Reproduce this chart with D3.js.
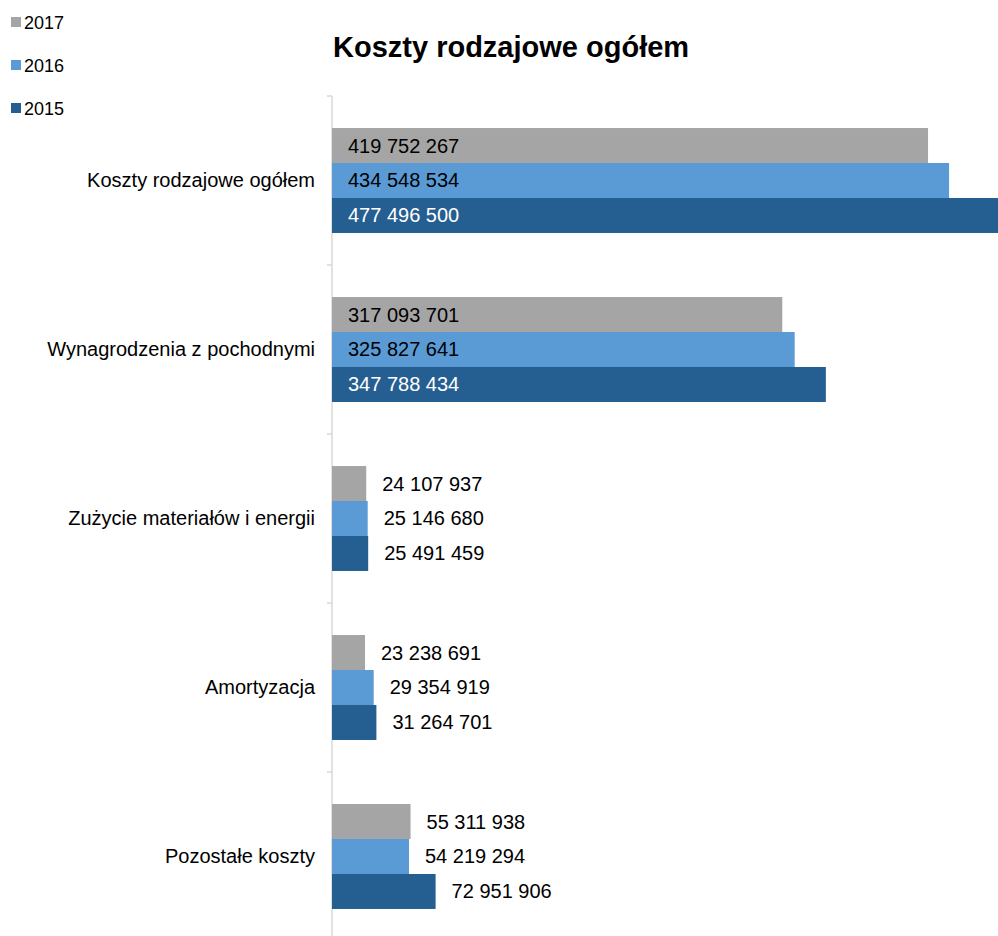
<!DOCTYPE html>
<html>
<head>
<meta charset="utf-8">
<script src="https://cdn.jsdelivr.net/npm/d3@7"></script>
<style>
  body { margin: 0; background: #fff; }
  svg { display: block; font-family: "Liberation Sans", Arial, sans-serif; }
</style>
</head>
<body>
<div id="chart"></div>
<script>
const categories = ['Koszty rodzajowe ogółem', 'Wynagrodzenia z pochodnymi', 'Zużycie materiałów i energii', 'Amortyzacja', 'Pozostałe koszty'];
const years = ['2017', '2016', '2015'];
const v2017 = [419752267, 317093701, 24107937, 23238691, 55311938];
const v2016 = [434548534, 325827641, 25146680, 29354919, 54219294];
const v2015 = [477496500, 347788434, 25491459, 31264701, 72951906];
const colors = ['#A5A5A5', '#5B9BD5', '#255E91'];

const series = [v2017, v2016, v2015];
const width = 998, height = 936;

const svg = d3.select('#chart').append('svg').attr('width', width).attr('height', height);

const x = d3.scaleLinear().domain([0, 500e6]).range([332, 1042]);
const y0 = d3.scaleBand().domain(categories).range([96, 941]).paddingInner(0.379).paddingOuter(0.1895);
const y1 = d3.scaleBand().domain(years).range([0, y0.bandwidth()]);
const fmt = v => d3.format(',')(v).replace(/,/g, ' ');

// axis line + ticks at band boundaries
svg.append('line').attr('x1', 332).attr('x2', 332).attr('y1', 96).attr('y2', height)
  .attr('stroke', '#D9D9D9').attr('stroke-width', 1.5);
d3.range(categories.length + 1).forEach(i => {
  const yy = 96 + i * y0.step();
  svg.append('line').attr('x1', 327).attr('x2', 332).attr('y1', yy).attr('y2', yy)
    .attr('stroke', '#D9D9D9').attr('stroke-width', 1.5);
});

const groups = svg.selectAll('.cat').data(categories).enter().append('g')
  .attr('transform', d => `translate(0,${y0(d)})`);

groups.each(function(cat, ci) {
  const g = d3.select(this);
  years.forEach((yr, si) => {
    const v = series[si][ci];
    g.append('rect').attr('x', x(0)).attr('y', y1(yr))
      .attr('width', x(v) - x(0)).attr('height', y1.bandwidth())
      .attr('fill', colors[si]);
    const inside = v > 100e6;
    g.append('text')
      .attr('x', inside ? x(0) + 16 : x(v) + 16)
      .attr('y', y1(yr) + y1.bandwidth() / 2)
      .attr('dy', '0.35em')
      .attr('font-size', 20)
      .attr('fill', inside && si === 2 ? '#fff' : '#000')
      .text(fmt(v));
  });
  g.append('text').attr('x', 315).attr('y', y0.bandwidth() / 2).attr('dy', '0.35em')
    .attr('text-anchor', 'end').attr('font-size', 20).attr('fill', '#000').text(cat);
});

// title
svg.append('text').attr('x', 333).attr('y', 57).attr('font-size', 29).attr('font-weight', 'bold')
  .attr('fill', '#000').text('Koszty rodzajowe ogółem');

// legend
years.forEach((yr, i) => {
  const yy = 17 + i * 43;
  svg.append('rect').attr('x', 11).attr('y', yy).attr('width', 10).attr('height', 10).attr('fill', colors[i]);
  svg.append('text').attr('x', 24).attr('y', yy + 10).attr('dy', '0.1em').attr('font-size', 18).attr('fill', '#000').text(yr);
});
</script>
</body>
</html>
